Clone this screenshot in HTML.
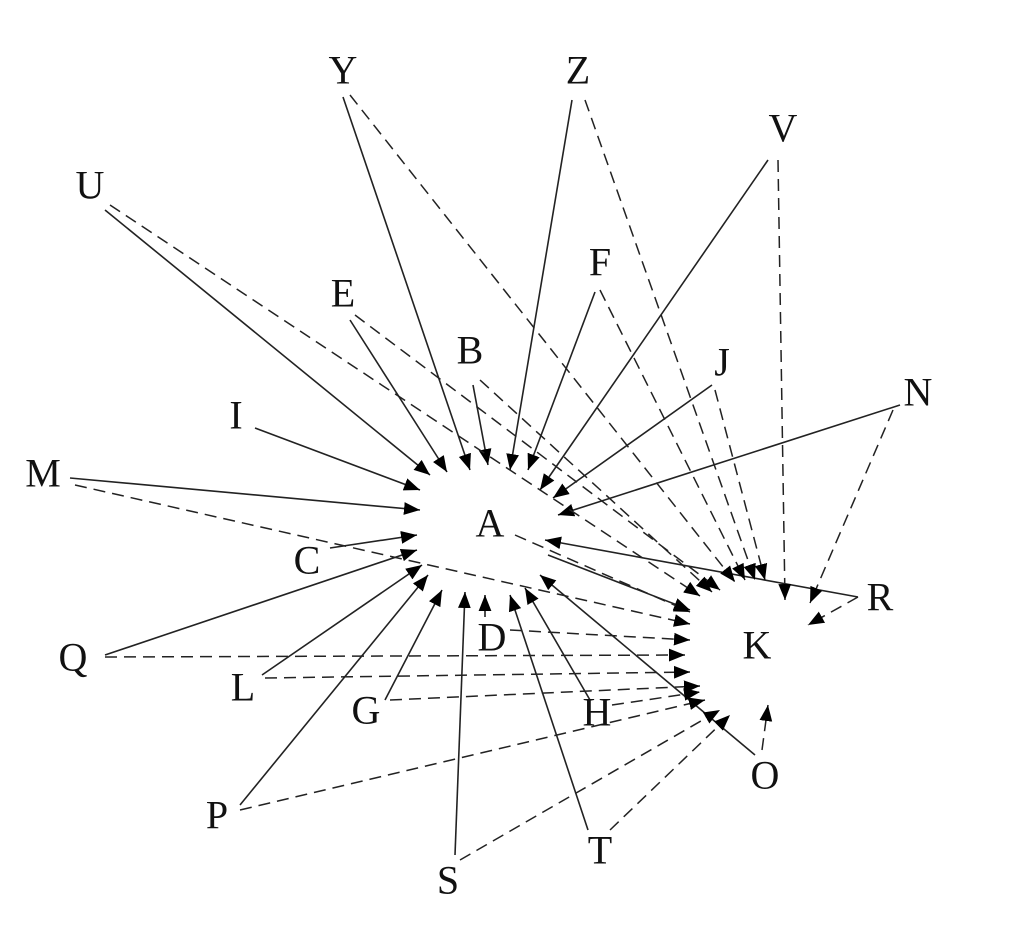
<!DOCTYPE html>
<html><head><meta charset="utf-8"><style>
html,body{margin:0;padding:0;background:#fff;width:1024px;height:934px;overflow:hidden}
svg text{font-family:"Liberation Serif",serif;font-size:40px;fill:#111;text-anchor:middle;dominant-baseline:central}
</style></head><body>
<svg width="1024" height="934" viewBox="0 0 1024 934" xmlns="http://www.w3.org/2000/svg">
<defs>
<marker id="a" viewBox="0 0 10 10" refX="10" refY="5" markerWidth="7" markerHeight="7" orient="auto" markerUnits="userSpaceOnUse">
<path d="M0,0 L10,5 L0,10 z" fill="#000"/></marker>
<marker id="b" viewBox="0 0 10 10" refX="10" refY="5" markerWidth="16" markerHeight="16" orient="auto" markerUnits="userSpaceOnUse">
<path d="M0,1 L10,5 L0,9 z" fill="#000"/></marker>
</defs>
<g stroke="#222" stroke-width="1.6" fill="none" marker-end="url(#b)">
<line x1="105" y1="210" x2="430" y2="475"/>
<line x1="343" y1="97" x2="470" y2="470"/>
<line x1="350" y1="320" x2="447" y2="472"/>
<line x1="473" y1="385" x2="488" y2="465"/>
<line x1="572" y1="100" x2="510" y2="470"/>
<line x1="595" y1="292" x2="528" y2="470"/>
<line x1="768" y1="160" x2="540" y2="490"/>
<line x1="712" y1="385" x2="553" y2="498"/>
<line x1="900" y1="405" x2="558" y2="515"/>
<line x1="255" y1="428" x2="420" y2="490"/>
<line x1="70" y1="478" x2="420" y2="510"/>
<line x1="330" y1="548" x2="417" y2="535"/>
<line x1="105" y1="655" x2="417" y2="550"/>
<line x1="262" y1="675" x2="422" y2="565"/>
<line x1="240" y1="805" x2="428" y2="575"/>
<line x1="385" y1="700" x2="442" y2="590"/>
<line x1="485" y1="617" x2="485" y2="595"/>
<line x1="455" y1="855" x2="465" y2="592"/>
<line x1="588" y1="830" x2="510" y2="595"/>
<line x1="590" y1="700" x2="525" y2="588"/>
<line x1="755" y1="755" x2="540" y2="575"/>
<line x1="858" y1="597" x2="545" y2="540"/>
<line x1="548" y1="555" x2="690" y2="610"/>
</g>
<g stroke="#222" stroke-width="1.5" fill="none" stroke-dasharray="12,7" marker-end="url(#b)">
<line x1="350" y1="95" x2="735" y2="582"/>
<line x1="585" y1="100" x2="755" y2="580"/>
<line x1="110" y1="205" x2="700" y2="596"/>
<line x1="355" y1="315" x2="720" y2="590"/>
<line x1="480" y1="380" x2="712" y2="592"/>
<line x1="600" y1="290" x2="745" y2="580"/>
<line x1="715" y1="390" x2="765" y2="580"/>
<line x1="778" y1="160" x2="785" y2="600"/>
<line x1="893" y1="410" x2="810" y2="603"/>
<line x1="858" y1="597" x2="808" y2="625"/>
<line x1="75" y1="485" x2="690" y2="624"/>
<line x1="105" y1="657" x2="685" y2="655"/>
<line x1="265" y1="678" x2="690" y2="672"/>
<line x1="390" y1="700" x2="700" y2="686"/>
<line x1="510" y1="630" x2="690" y2="640"/>
<line x1="240" y1="810" x2="705" y2="700"/>
<line x1="460" y1="860" x2="720" y2="710"/>
<line x1="610" y1="830" x2="730" y2="715"/>
<line x1="762" y1="750" x2="768" y2="705"/>
<line x1="612" y1="705" x2="700" y2="692"/>
<line x1="515" y1="535" x2="690" y2="612"/>
</g>
<g>
<text x="343" y="70">Y</text><text x="578" y="70">Z</text><text x="783" y="128">V</text>
<text x="90" y="185">U</text><text x="343" y="293">E</text><text x="600" y="262">F</text>
<text x="470" y="350">B</text><text x="722" y="362">J</text><text x="918" y="392">N</text>
<text x="236" y="415">I</text><text x="43" y="473">M</text><text x="490" y="523">A</text>
<text x="307" y="560">C</text><text x="880" y="597">R</text><text x="757" y="645">K</text>
<text x="73" y="657">Q</text><text x="492" y="637">D</text><text x="243" y="687">L</text>
<text x="366" y="710">G</text><text x="597" y="712">H</text><text x="765" y="775">O</text>
<text x="217" y="815">P</text><text x="600" y="850">T</text><text x="448" y="880">S</text>
</g>
</svg>
</body></html>
